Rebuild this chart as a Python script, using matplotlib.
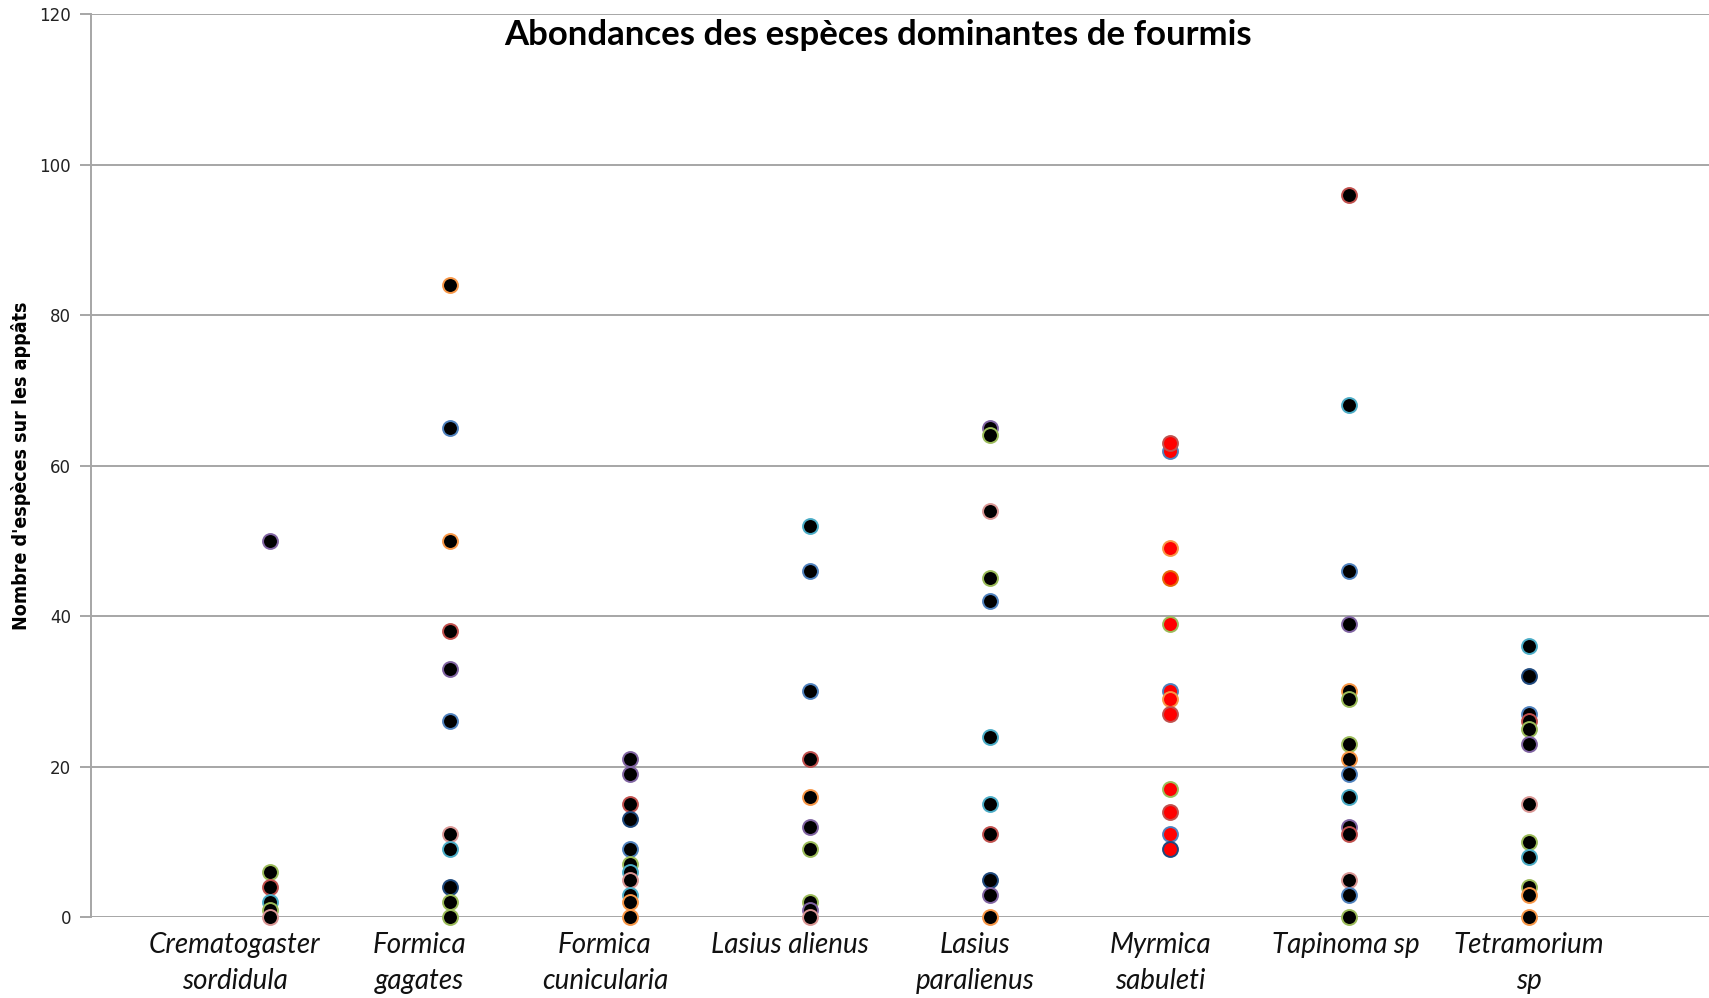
import numpy as np
import matplotlib as mpl
mpl.use("Agg")
import matplotlib.pyplot as plt
from matplotlib import font_manager

# species on the category axis
species = ["Crematogaster\nsordidula", "Formica\ngagates", "Formica\ncunicularia",
           "Lasius alienus", "Lasius\nparalienus", "Myrmica\nsabuleti",
           "Tapinoma sp", "Tetramorium\nsp"]

# abundances, one list per species
crematogaster = [50, 6, 4, 2, 1, 0]
f_gagates = [84, 65, 50, 38, 33, 26, 11, 9, 4, 2, 0]
f_cunicularia = [21, 19, 15, 13, 9, 7, 6, 5, 3, 2, 0]
l_alienus = [52, 46, 30, 21, 16, 12, 9, 2, 1, 0]
l_paralienus = [65, 64, 54, 45, 42, 24, 15, 11, 5, 3, 0]
m_sabuleti = [62, 63, 49, 45, 39, 30, 29, 27, 17, 14, 11, 9]
tapinoma = [96, 68, 46, 39, 30, 29, 23, 21, 19, 16, 12, 11, 5, 3, 0]
tetramorium = [36, 32, 27, 26, 25, 23, 15, 10, 8, 4, 3, 0]

values = [crematogaster, f_gagates, f_cunicularia, l_alienus,
          l_paralienus, m_sabuleti, tapinoma, tetramorium]

# marker edge colour codes (Excel 2007 palette)
edges = [
    "PGRCGK",
    "OBORPBKCNGG",
    "PPRNBGCKCOO",
    "CBBROPGGPK",
    "PGKGBCCRNPO",
    "BRODGBORGRBN",
    "RCBPOGGOBCPRKBG",
    "CNBRGPKGCGOO",
]
palette = {"B": "#4F81BD", "R": "#C0504D", "G": "#9BBB59", "P": "#8064A2",
           "C": "#4BACC6", "O": "#F79646", "K": "#D99694", "N": "#1F497D",
           "D": "#E46C0A"}

# narrow font for the y label if there is one
names = {f.name for f in font_manager.fontManager.ttflist}
narrow = [f.name for f in font_manager.fontManager.ttflist
          if f.stretch in ("condensed", "semi-condensed", "extra-condensed")
          or "Narrow" in f.name or "Condensed" in f.name]
if "Liberation Sans Narrow" in names:
    ylab_font, ylab_size, ylab_stretch = "Liberation Sans Narrow", 14, "normal"
elif narrow:
    ylab_font, ylab_size, ylab_stretch = narrow[0], 14, "condensed"
else:
    ylab_font, ylab_size, ylab_stretch = "DejaVu Sans", 12, "normal"

fig = plt.figure(figsize=(17.09, 9.98), dpi=100)
ax = fig.add_axes([0.053, 0.081, 0.947, 0.905])

grid_c = "#A6A6A6"
for i, (vals, ec) in enumerate(zip(values, edges)):
    face = "#FF0000" if i == 5 else "black"
    for v, c in zip(vals, ec):
        ax.scatter(i + 1, v, s=115, facecolor=face, edgecolor=palette[c],
                   linewidth=1.4, zorder=3, clip_on=False)

ax.set_xlim(0, 9)
ax.set_ylim(0, 120)
ax.set_yticks(np.arange(0, 121, 20))
ax.yaxis.grid(True, color=grid_c, linewidth=1.4)
ax.set_axisbelow(True)
for s in ["top", "right", "bottom"]:
    ax.spines[s].set_visible(False)
ax.spines["left"].set_color(grid_c)
ax.spines["left"].set_linewidth(1.4)
ax.tick_params(axis="y", length=8, width=1.4, color=grid_c, labelsize=12,
               labelcolor="#222222", pad=6)
ax.tick_params(axis="x", length=0)
ax.set_xticks([])

label_pos = [0.80, 1.83, 2.86, 3.89, 4.92, 5.95, 6.98, 8.0]
for xp, name in zip(label_pos, species):
    ax.text(xp, -2.0, name, ha="center", va="top", style="italic",
            fontsize=20, family=["Lato", "DejaVu Sans"], linespacing=1.45,
            transform=ax.transData, color="#111111")

fig.text(0.514, 0.965, "Abondances des espèces dominantes de fourmis",
         ha="center", va="center", fontsize=25, fontweight="bold",
         family=["Lato", "DejaVu Sans"])
fig.text(0.012, 0.533, "Nombre d'espèces sur les appâts", rotation=90,
         ha="center", va="center", fontsize=ylab_size, fontweight="bold",
         fontstretch=ylab_stretch, family=[ylab_font, "DejaVu Sans"])

fig.savefig("out.png", dpi=100)
